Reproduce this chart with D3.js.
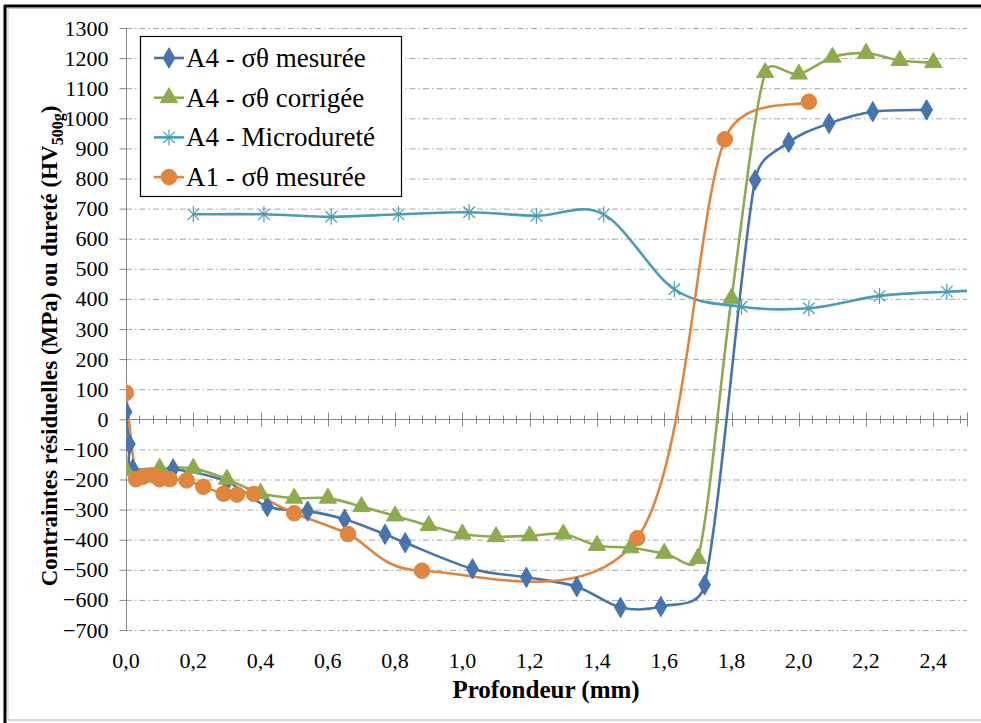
<!DOCTYPE html>
<html>
<head>
<meta charset="utf-8">
<script src="https://cdn.jsdelivr.net/npm/d3@7/dist/d3.min.js"></script>
<style>
  body { margin: 0; background: #fff; }
  svg { display: block; }
</style>
</head>
<body>
<svg id="chart" width="981" height="723"></svg>
<script>
// depth (mm) and values

// A4 - sigma theta measured
const depthA4Mes = [0.0, 0.01, 0.02, 0.14, 0.30, 0.42, 0.54, 0.65, 0.77, 0.83, 1.03, 1.19, 1.34, 1.47, 1.59, 1.72, 1.87, 1.97, 2.09, 2.22, 2.38];
const sigmaA4Mes = [25, -82, -165, -165, -207, -290, -305, -332, -382, -410, -497, -525, -556, -625, -622, -550, 795, 920, 983, 1022, 1028];

// A4 - sigma theta corrected
const depthA4Cor = [0.0, 0.1, 0.2, 0.3, 0.4, 0.5, 0.6, 0.7, 0.8, 0.9, 1.0, 1.1, 1.2, 1.3, 1.4, 1.5, 1.6, 1.7, 1.8, 1.9, 2.0, 2.1, 2.2, 2.3, 2.4];
const sigmaA4Cor = [-170, -163, -163, -199, -246, -262, -262, -290, -321, -353, -381, -390, -387, -381, -419, -427, -445, -462, 402, 1152, 1147, 1203, 1216, 1192, 1185];

// A4 - microhardness (HV500g)
const depthMicro = [0.2, 0.41, 0.61, 0.81, 1.02, 1.22, 1.42, 1.63, 1.83, 2.03, 2.24, 2.44, 2.64];
const hvMicro = [681, 681, 673, 681, 688, 676, 681, 432, 374, 369, 410, 424, 432];

// A1 - sigma theta measured
const depthA1 = [0.0, 0.03, 0.05, 0.08, 0.10, 0.13, 0.18, 0.23, 0.29, 0.33, 0.38, 0.50, 0.66, 0.88, 1.52, 1.78, 2.03];
const sigmaA1 = [88, -199, -191, -186, -199, -199, -203, -224, -247, -250, -248, -312, -381, -503, -395, 930, 1055];

const yTicks = d3.range(-700, 1301, 100);
const xTicks = [0, 0.2, 0.4, 0.6, 0.8, 1.0, 1.2, 1.4, 1.6, 1.8, 2.0, 2.2, 2.4];

const seriesNames = ['A4 - σθ mesurée', 'A4 - σθ corrigée', 'A4 - Microdureté', 'A1 - σθ mesurée'];

const FONT = '"Liberation Serif", "DejaVu Serif", "Noto Serif", serif';

const svg = d3.select('#chart').style('font-family', FONT);

// plot area
const plotLeft = 126, plotRight = 967, plotTop = 28, plotBottom = 630;

const x = d3.scaleLinear().domain([0, 2.5]).range([plotLeft, plotRight]);
const y = d3.scaleLinear().domain([-700, 1300]).range([plotBottom, plotTop]);

const fmtX = d => d3.format('.1f')(d).replace('.', ',');

// Smoothed line like the spreadsheet one: Catmull-Rom arms (1/6 of the chord)
// capped at half of the segment, so steep jumps don't overshoot.
function curveSmooth(context) {
  let pts = [];
  return {
    areaStart() {}, areaEnd() {},
    lineStart() { pts = []; },
    point(px, py) { pts.push([+px, +py]); },
    lineEnd() {
      const n = pts.length;
      if (!n) return;
      context.moveTo(pts[0][0], pts[0][1]);
      for (let i = 0; i < n - 1; i++) {
        const p0 = pts[Math.max(i - 1, 0)], p1 = pts[i], p2 = pts[i + 1], p3 = pts[Math.min(i + 2, n - 1)];
        const d12 = Math.hypot(p2[0] - p1[0], p2[1] - p1[1]);
        const t1 = [p2[0] - p0[0], p2[1] - p0[1]], l1 = Math.hypot(t1[0], t1[1]) || 1;
        const t2 = [p3[0] - p1[0], p3[1] - p1[1]], l2 = Math.hypot(t2[0], t2[1]) || 1;
        const a1 = Math.min(l1 / 6, d12 / 2) / l1, a2 = Math.min(l2 / 6, d12 / 2) / l2;
        context.bezierCurveTo(
          p1[0] + t1[0] * a1, p1[1] + t1[1] * a1,
          p2[0] - t2[0] * a2, p2[1] - t2[1] * a2,
          p2[0], p2[1]);
      }
    }
  };
}

// outer frame (only left/top show as black, the rest is cut)
svg.append('rect').attr('width', 981).attr('height', 723).attr('fill', '#fff');
svg.append('line').attr('x1', 5).attr('x2', 5).attr('y1', 5).attr('y2', 723)
  .attr('stroke', '#000').attr('stroke-width', 3);
svg.append('line').attr('x1', 4).attr('x2', 981).attr('y1', 6).attr('y2', 6)
  .attr('stroke', '#000').attr('stroke-width', 3);
svg.append('line').attr('x1', 8).attr('x2', 8).attr('y1', 8).attr('y2', 720)
  .attr('stroke', '#c8c8c8').attr('stroke-width', 1);
svg.append('line').attr('x1', 8).attr('x2', 981).attr('y1', 8.5).attr('y2', 8.5)
  .attr('stroke', '#c8c8c8').attr('stroke-width', 1);
svg.append('line').attr('x1', 6).attr('x2', 981).attr('y1', 720).attr('y2', 720)
  .attr('stroke', '#c8c8c8').attr('stroke-width', 1.5);

// horizontal grid, dash-dot
svg.append('g')
  .selectAll('line')
  .data(yTicks.filter(d => d !== 0))
  .join('line')
  .attr('x1', plotLeft).attr('x2', plotRight)
  .attr('y1', d => y(d) + 0.5).attr('y2', d => y(d) + 0.5)
  .attr('stroke', '#a6a6a6')
  .attr('stroke-width', 1)
  .attr('stroke-dasharray', '6,3,1.5,3');

// y axis on the left, ticks outside
const yAxis = d3.axisLeft(y).tickValues(yTicks).tickSize(7).tickPadding(11).tickFormat(d3.format('d'));
const gy = svg.append('g').attr('transform', `translate(${plotLeft + 0.5},0)`).call(yAxis)
  .attr('font-family', FONT).attr('font-size', 22);
gy.select('.domain').attr('stroke', '#868686').attr('d', `M0,${plotTop}V${plotBottom}`);
gy.selectAll('.tick line').attr('stroke', '#868686');
gy.selectAll('.tick text').attr('fill', '#000');

// horizontal axis on y = 0, ticks crossing, labels kept at the bottom
const zeroY = Math.round(y(0)) + 0.5;
svg.append('line').attr('x1', plotLeft).attr('x2', plotRight).attr('y1', zeroY).attr('y2', zeroY)
  .attr('stroke', '#868686').attr('stroke-width', 1);

const minorTicks = d3.range(0, 2.5001, 0.04).filter(d => Math.abs(d / 0.2 - Math.round(d / 0.2)) > 0.01);
svg.append('g')
  .selectAll('line')
  .data(minorTicks)
  .join('line')
  .attr('x1', d => Math.round(x(d)) + 0.5).attr('x2', d => Math.round(x(d)) + 0.5)
  .attr('y1', zeroY - 4).attr('y2', zeroY + 4)
  .attr('stroke', '#868686');
svg.append('g')
  .selectAll('line')
  .data(xTicks.concat([2.5]))
  .join('line')
  .attr('x1', d => Math.round(x(d)) + 0.5).attr('x2', d => Math.round(x(d)) + 0.5)
  .attr('y1', zeroY - 7).attr('y2', zeroY + 7)
  .attr('stroke', '#868686');

svg.append('g')
  .selectAll('text')
  .data(xTicks)
  .join('text')
  .attr('x', d => x(d))
  .attr('y', 668)
  .attr('text-anchor', 'middle')
  .attr('font-size', 22)
  .text(fmtX);

// axis titles
svg.append('text')
  .attr('x', 546).attr('y', 698)
  .attr('text-anchor', 'middle')
  .attr('font-size', 25).attr('font-weight', 'bold')
  .text('Profondeur (mm)');

const yTitle = svg.append('text')
  .attr('transform', 'translate(57,346) rotate(-90)')
  .attr('text-anchor', 'middle')
  .attr('font-size', 23).attr('font-weight', 'bold');
yTitle.append('tspan').text('Contraintes résiduelles (MPa) ou dureté (HV');
yTitle.append('tspan').attr('dy', 6).attr('font-size', 16).text('500g');
yTitle.append('tspan').attr('dy', -6).text(')');

// series styling
const colBlue = '#4674ad', colGreen = '#8dab4e', colTeal = '#4a9cb5', colOrange = '#e0853e';

const starPath = s => {
  const r = s / 2, d = r * 0.72;
  return `M0,${-r}V${r}M${-d},${-d}L${d},${d}M${-d},${d}L${d},${-d}`;
};
const markers = {
  diamond: g => g.append('path').attr('d', d3.symbol(d3.symbolDiamond, 120)()),
  triangle: g => g.append('path').attr('d', d3.symbol(d3.symbolTriangle, 130)()),
  star: g => g.append('path').attr('d', starPath(16)).attr('fill', 'none').attr('stroke-width', 1.2),
  circle: g => g.append('circle').attr('r', 7.8)
};

const series = [
  { name: seriesNames[0], xs: depthA4Mes, ys: sigmaA4Mes, color: colBlue, marker: 'diamond' },
  { name: seriesNames[1], xs: depthA4Cor, ys: sigmaA4Cor, color: colGreen, marker: 'triangle' },
  { name: seriesNames[2], xs: depthMicro, ys: hvMicro, color: colTeal, marker: 'star' },
  { name: seriesNames[3], xs: depthA1, ys: sigmaA1, color: colOrange, marker: 'circle' }
];

svg.append('clipPath').attr('id', 'plotclip')
  .append('rect').attr('x', plotLeft).attr('y', plotTop - 10).attr('width', plotRight - plotLeft).attr('height', plotBottom - plotTop + 20);

const line = d3.line().x(d => x(d[0])).y(d => y(d[1])).curve(curveSmooth);

const plot = svg.append('g').attr('clip-path', 'url(#plotclip)');

series.forEach(s => {
  const pts = s.xs.map((d, i) => [d, s.ys[i]]);
  plot.append('path')
    .datum(pts)
    .attr('d', line)
    .attr('fill', 'none')
    .attr('stroke', s.color)
    .attr('stroke-width', 2.6);
});

series.forEach(s => {
  const pts = s.xs.map((d, i) => [d, s.ys[i]]).filter(p => p[0] <= 2.5);
  pts.forEach(p => {
    const g = plot.append('g')
      .attr('transform', `translate(${x(p[0])},${y(p[1])})`)
      .attr('fill', s.color)
      .attr('stroke', s.color);
    markers[s.marker](g);
  });
});

// legend
const legend = svg.append('g');
legend.append('rect')
  .attr('x', 140.5).attr('y', 36.5).attr('width', 261).attr('height', 160)
  .attr('fill', '#fff').attr('stroke', '#000').attr('stroke-width', 1.2);

series.forEach((s, i) => {
  const cy = 58 + i * 39.7;
  legend.append('line')
    .attr('x1', 154).attr('x2', 184).attr('y1', cy).attr('y2', cy)
    .attr('stroke', s.color).attr('stroke-width', 2.6);
  const g = legend.append('g')
    .attr('transform', `translate(169,${cy})`)
    .attr('fill', s.color).attr('stroke', s.color);
  markers[s.marker](g);
  legend.append('text')
    .attr('x', 186).attr('y', cy + 9)
    .attr('font-size', 27)
    .text(s.name);
});
</script>
</body>
</html>
